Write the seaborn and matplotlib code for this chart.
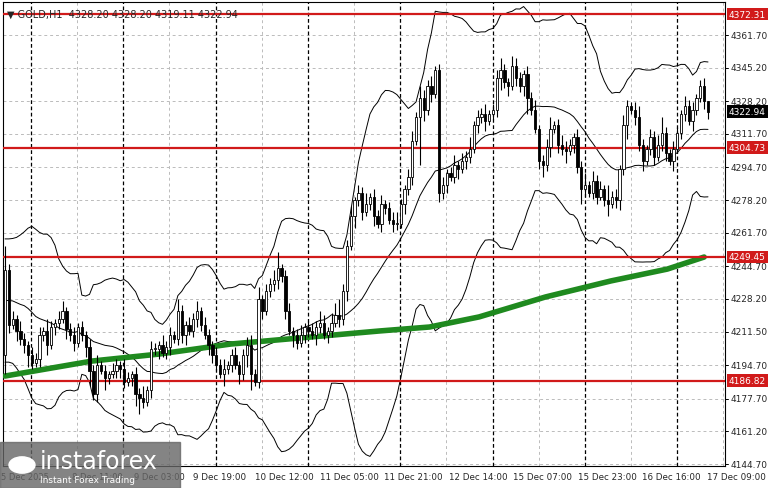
import numpy as np
import pandas as pd
import matplotlib
matplotlib.use("Agg")
import matplotlib.pyplot as plt
import seaborn as sns

closes = [4243,4215,4218,4212,4208,4205,4200,4196,
          4198,4210,4212,4205,4214,4216,4218,
          4222,4213,4210,4206,4214,4210,
          4204,4192,4180,4195,4192,4188,
          4190,4192,4195,4193,4186,4188,
          4190,4180,4178,4176,4182,
          4203,
          4203,4205,4201,4204,4210,4208,4222,4210,4215,4212,4218,4222,
          4215,4210,4205,4200,4195,4190,4193,
          4195,4200,4195,4190,4200,4205,4190,4186,
          4228,
          4222,4232,4236,4238,4244,4240,
          4222,4212,4210,4206,4210,4214,4212,4210,
          4214,4216,4210,4212,4216,4220,4218,
          4232,4255,4270,
          4278,4282,4272,4276,4280,4270,4266,4276,4274,4268,4266,4266,
          4276,4284,4290,
          4308,4320,4330,4324,4336,4332,4344,
          4282,
          4286,4292,4290,4296,4294,4298,4300,4304,4316,4320,
          4322,4318,4322,4324,
          4340,4344,4338,4336,4346,4340,4336,4342,
          4330,4324,4314,4298,4296,
          4305,4314,4316,4306,4304,4303,4306,4310,
          4295,4284,4286,4282,4288,4280,4284,4278,4276,4280,4278,
          4294,4316,4326,4324,
          4320,4306,4298,4304,4310,4300,4306,4312,4302,4298,4304,
          4312,4322,4326,4318,4324,4330,4336,4328.2,
          4322.94]
first_open = 4200
wick_up = [12,3,4,2,5,3,2,4,3,4,2,6,3,2,4,5,2,3,4,2,3,2,4,3,5,2,3,
           2,4,3,2,5,3,2,4,3,6,2,4,3,2,5,3,4,2,6,3,2,4,3,5,2,4,3,2,
           4,3,5,2,3,4,2,3,4,5,3,6,2,4,3,5,8,2,3,4,2,3,5,2,3,4,3,6,
           4,2,5,6,8,4,3,5,2,4,3,6,2,4,3,5,2,3,4,6,3,2,4,5,3,6,4,3,
           5,2,3,4,2,3,5,2,4,3,6,2,4,3,5,2,3,4,6,3,2,5,4,3,2,4,3,5,
           2,3,4,6,2,3,5,4,3,2,4,3,6,2,5,3,4,2,8,3,4,2,5,3,2,4,6,3,
           2,4,3,5,8,3,2,4,3,2,5,3,4,2,3,4,2,5,3,2,4,3,2,5]
wick_dn = [10,4,2,5,3,4,6,3,2,4,3,5,2,4,3,2,5,3,4,2,3,5,8,3,4,2,6,
           3,2,4,5,3,2,4,6,8,3,2,4,3,5,2,3,4,2,3,4,5,2,3,4,3,2,5,4,
           3,2,6,3,4,2,5,3,6,8,2,3,4,2,3,4,5,3,4,2,6,3,2,4,3,2,5,3,
           2,4,3,2,4,3,5,2,6,3,4,2,3,5,2,4,3,2,4,3,2,5,3,4,2,24,6,3,
           4,2,5,3,4,2,3,5,2,4,3,2,4,3,5,2,3,4,6,3,5,2,4,3,5,8,3,2,
           4,6,3,5,2,4,3,6,2,4,3,8,4,2,3,4,2,3,6,2,4,5,3,7,2,4,3,5,
           2,3,4,2,3,4,2,5,2,3,4,2,5,3,2,4,3,2,4,3,5,2]
bb_prefix = [4215,4222,4230,4225,4218,4228,4235,4240,4232,4226,4220,4230,
             4238,4245,4236,4228,4222,4210,4205]
ma_x = [0, 22.7, 40, 58.8, 97.5, 110.5, 123.4, 140.7, 157.7, 172.4, 182]
ma_y = [4189.2, 4196.8, 4200.3, 4205.4, 4212.0, 4214.0, 4219.1, 4229.2, 4237.3, 4243.3, 4249.4]
levels = [4372.31,4304.73,4249.45,4186.82]
yticks = [4361.70,4345.20,4328.20,4311.70,4294.70,4278.20,4261.70,4244.70,
          4228.20,4211.50,4194.70,4177.70,4161.20,4144.70]
xlabels = ["5 Dec 2025","8 Dec 11:00","9 Dec 03:00","9 Dec 19:00","10 Dec 12:00",
           "11 Dec 05:00","11 Dec 21:00","12 Dec 14:00","15 Dec 07:00",
           "15 Dec 23:00","16 Dec 16:00","17 Dec 09:00"]

n = len(closes)
opens = [first_open] + closes[:-1]
highs = [max(o, c) + w for o, c, w in zip(opens, closes, wick_up[:n])]
lows = [min(o, c) - w for o, c, w in zip(opens, closes, wick_dn[:n])]
highs[-1] = 4328.20; lows[-1] = 4319.11
df = pd.DataFrame({"i": np.arange(n), "o": opens, "c": closes, "h": highs, "l": lows})
full = pd.Series(bb_prefix + closes)
mid = full.rolling(20).mean().iloc[len(bb_prefix):].values
sd = full.rolling(20).std(ddof=0).iloc[len(bb_prefix):].values
bb = pd.DataFrame({"i": np.arange(n), "mid": mid, "up": mid + 3 * sd, "lo": mid - 3 * sd})

sns.set_style("white")
fig = plt.figure(figsize=(7.81, 4.89), dpi=100)
W, H = 781, 489
L, R, T, B = 3, 725, 3, 467
ax = fig.add_axes([L / W, 1 - B / H, (R - L) / W, (B - T) / H])
ymin, ymax = 4143.7, 4378.4
spacing = 703 / (n - 1)
x0 = -(5 - L) / spacing
x1 = x0 + (R - L) / spacing
ax.set_xlim(x0, x1)
ax.set_ylim(ymin, ymax)

for v in yticks:
    ax.axhline(v, color="#bbbbbb", lw=0.7, ls=(0, (3, 3)), zorder=0)
for k in range(-1, 9):
    xp = 31 + 92.3 * k
    xi = (xp - 5) / spacing
    ax.axvline(xi, color="black", lw=0.9, ls=(0, (3, 2)), zorder=1)
    ax.axvline(xi + 46.15 / spacing, color="#bbbbbb", lw=0.7, ls=(0, (3, 3)), zorder=0)

for col in ["up", "mid", "lo"]:
    sns.lineplot(data=bb, x="i", y=col, ax=ax, color="black", lw=0.7, zorder=2)
sns.lineplot(x=ma_x, y=ma_y, ax=ax, color="#1f8a1f", lw=4, zorder=3)

for v in levels:
    ax.axhline(v, color="#d11a1a", lw=1.6, zorder=4)

for r in df.itertuples():
    ax.vlines(r.i, r.l, r.h, color="black", lw=0.8, zorder=5)
    lo_, hi_ = min(r.o, r.c), max(r.o, r.c)
    ax.bar(r.i, max(hi_ - lo_, 0.4), bottom=lo_, width=0.6,
           color="white" if r.c >= r.o else "black", edgecolor="black", lw=0.6, zorder=6)

ax.set_xlabel(""); ax.set_ylabel("")
ax.set_xticks([]); ax.set_yticks([])
for s in ax.spines.values():
    s.set_color("black"); s.set_linewidth(0.8)

def ypix(v):
    return B - (v - ymin) / (ymax - ymin) * (B - T)

for v in yticks:
    fig.text((R + 6) / W, 1 - ypix(v) / H, f"{v:.2f}", fontsize=6.5, va="center", ha="left")
    fig.add_artist(plt.Line2D([R / W, (R + 3) / W], [1 - ypix(v) / H] * 2, color="black", lw=0.7))
for v in levels:
    fig.text((R + 4) / W, 1 - ypix(v) / H, f"{v:.2f}", fontsize=6.5, va="center", ha="left",
             color="white", bbox=dict(boxstyle="square,pad=0.2", fc="#d11a1a", ec="none"))
fig.text((R + 4) / W, 1 - ypix(4322.94) / H, "4322.94", fontsize=6.5, va="center", ha="left",
         color="white", bbox=dict(boxstyle="square,pad=0.2", fc="black", ec="none"))

label_x = [1, 97, 159, 220, 284.5, 349, 413.5, 478, 542.5, 607, 671.5, 736]
for k, lab in enumerate(xlabels):
    if k == 0:
        fig.text(label_x[k] / W, 1 - 478 / H, lab, fontsize=6.0, ha="left", va="center")
    else:
        fig.text(label_x[k] / W, 1 - 478 / H, lab, fontsize=6.0 if k < 3 else 6.3,
                 ha="center", va="center")

ax.text(0.005, 0.985, "▼ GOLD,H1  4328.20 4328.20 4319.11 4322.94", transform=ax.transAxes,
        fontsize=7, va="top", ha="left", zorder=10)

fig.patches.append(matplotlib.patches.Rectangle((0, 0), 180 / W, 46 / H, transform=fig.transFigure,
                                                color="#666666", alpha=0.8, zorder=20))
fig.text(40 / W, 1 - 462 / H, "instaforex", fontsize=17, color="white", ha="left", va="center", zorder=21)
fig.text(40 / W, 1 - 481 / H, "Instant Forex Trading", fontsize=6.5, color="white", ha="left", va="center", zorder=21)
fig.patches.append(matplotlib.patches.Circle((22 / W, 1 - 466 / H), 13 / W, transform=fig.transFigure,
                                             color="white", zorder=21))

fig.savefig("out.png", dpi=100)
